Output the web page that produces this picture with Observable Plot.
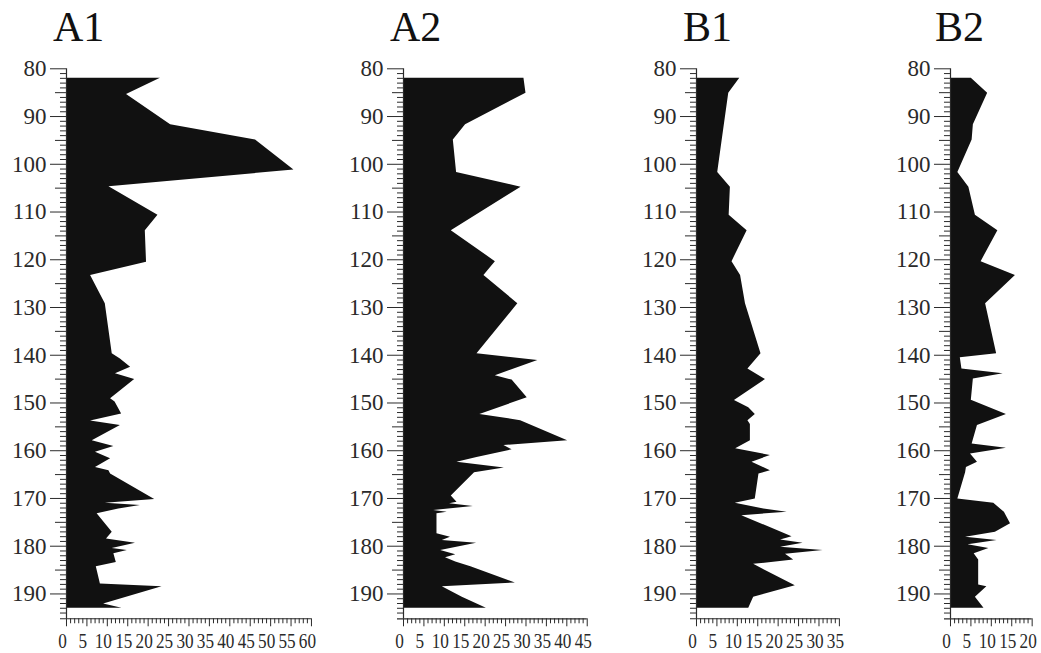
<!DOCTYPE html>
<html><head><meta charset="utf-8">
<script src="https://cdn.jsdelivr.net/npm/d3@7"></script>
<script src="https://cdn.jsdelivr.net/npm/@observablehq/plot@0.6"></script>
<style>
body{margin:0;background:#fff;}
#chart{position:relative;width:1041px;height:653px;overflow:hidden;font-family:"Liberation Serif","Times New Roman",serif;}
.panel{position:absolute;top:0;}
.panel, .panel text{font-family:"Liberation Serif","Times New Roman",serif !important;}
.title{position:absolute;font-size:42px;line-height:42px;color:#111;font-family:"Liberation Serif","Times New Roman",serif;}
</style></head><body><div id="chart"></div>
<script>
// ---- data ----
const titles = ["A1", "A2", "B1", "B2"];
const xMax = [60, 45, 35, 20];
const depthTicks = [80, 90, 100, 110, 120, 130, 140, 150, 160, 170, 180, 190];

const a1Depth = [82, 85.4, 91.7, 94.9, 101.2, 104.7, 110.7, 113.9, 120.5, 123.3, 129.2, 139.7, 140.8, 142.5, 143.9, 145.1, 149.1, 149.8, 152.3, 153.8, 154.7, 157.9, 159.1, 160.3, 161.7, 163.5, 164.2, 164.9, 170.2, 171.0, 171.5, 172.2, 173.2, 177.1, 178.5, 179.4, 180.5, 180.9, 181.6, 183.4, 184.3, 187.9, 188.5, 192.1, 193];
const a1Value = [23, 14.7, 25.5, 46.3, 55.7, 10.4, 22.4, 19.3, 19.6, 5.9, 9.5, 11.2, 13.2, 15.7, 12, 16.7, 10.8, 11.9, 13.5, 5.9, 13.2, 6.3, 11.6, 7.1, 10.8, 7.1, 10.4, 10.8, 21.6, 9.5, 18.1, 12.8, 7.5, 11.2, 9.8, 16.9, 11.2, 14.9, 11.6, 12.2, 7.3, 8.3, 23.4, 9.1, 13.6];

const a2Depth = [82, 85.1, 91.7, 94.9, 101.7, 104.8, 113.9, 120.4, 123.3, 129.2, 139.7, 141.1, 144.3, 145.2, 148.9, 152.4, 153.7, 157.9, 158.9, 159.8, 161.4, 162.4, 163.6, 164.6, 169.5, 170.8, 171.1, 171.7, 172.5, 172.9, 173.2, 177.4, 178.1, 178.8, 179.4, 180.9, 181.8, 182.4, 183.3, 184.3, 187.7, 188.5, 190.7, 193];
const a2Value = [29.5, 30.0, 15.2, 12.2, 13.0, 28.8, 11.7, 22.5, 19.7, 28.0, 18.0, 32.9, 22.5, 26.6, 30.3, 18.7, 28.7, 40.2, 24.6, 26.6, 18.0, 13.1, 24.7, 17.4, 11.7, 13.1, 11.3, 17.1, 7.4, 10.7, 8.2, 8.2, 11.5, 9.5, 17.9, 9.1, 12.8, 10.3, 12.8, 16.5, 27.4, 9.5, 14.4, 20.3];

const b1Depth = [82, 85.1, 94.9, 101.7, 104.8, 110.7, 113.9, 120.4, 123.3, 129.2, 139.7, 142.9, 145.1, 149.5, 151.0, 152.4, 153.7, 154.5, 157.9, 159.6, 161.0, 162.4, 164.2, 164.9, 170.1, 171.0, 172.2, 172.9, 173.6, 178.0, 178.7, 179.4, 180.2, 180.9, 181.7, 182.9, 183.8, 188.3, 190.7, 193];
const b1Value = [10.6, 7.9, 6.3, 5.2, 8.3, 8.0, 12.4, 8.7, 10.8, 12.0, 15.8, 12.6, 16.9, 9.3, 12.8, 14.4, 12.6, 13.2, 13.2, 9.6, 18.1, 13.6, 18.1, 15.3, 14.4, 9.5, 16.5, 22.2, 11.1, 23.4, 20.6, 26.1, 20.6, 31.0, 21.8, 23.8, 14.0, 24.2, 14.0, 12.8];

const b2Depth = [82, 85.1, 91.7, 94.9, 101.7, 104.8, 110.7, 113.9, 120.4, 123.3, 129.2, 139.7, 140.5, 142.9, 143.9, 145.0, 149.4, 152.4, 154.7, 158.6, 159.5, 160.7, 162.4, 163.5, 164.6, 170.1, 171.0, 172.9, 175.3, 177.1, 178.1, 178.8, 179.7, 180.5, 181.6, 182.9, 188.1, 188.5, 190.7, 193];
const b2Value = [5.1, 9.1, 5.6, 5.3, 1.8, 4.5, 6.1, 11.6, 7.5, 15.9, 8.6, 11.3, 2.4, 2.8, 12.9, 5.6, 5.1, 13.7, 6.6, 5.3, 13.7, 4.9, 6.6, 3.9, 3.7, 1.8, 10.6, 13.2, 14.7, 11.0, 3.7, 11.4, 4.3, 9.4, 5.8, 6.9, 6.9, 8.9, 6.1, 8.2];

const depths = [a1Depth, a2Depth, b1Depth, b2Depth];
const values = [a1Value, a2Value, b1Value, b2Value];

// ---- layout ----
const panelLeft = [0, 330, 640, 880];
const axisPos = [66, 403, 696, 950];
const titleLeft = [53, 390, 683, 935];
const marginRight = [12, 10, 10, 9];
const K = 4.083;          // px per x unit (shared)
const H = 653, MT = 68.3, MB = 34.7;
const yMin = 80, yMax = 195.2;
const ink = "#111", axisInk = "#2a2a2a";
const serif = '"Liberation Serif","Times New Roman",serif';

const chart = document.getElementById("chart");

titles.forEach((t, i) => {
  const data = depths[i].map((d, j) => ({depth: d, value: values[i][j]}));
  const ml = axisPos[i] - panelLeft[i];
  const w = ml + xMax[i] * K + marginRight[i];
  const minorY = d3.range(80, 195).filter(v => v % 5 !== 0);
  const midY = d3.range(85, 195, 10);
  const minorX = d3.range(0, xMax[i] + 1).filter(v => v % 5 !== 0);
  const majorX = d3.range(0, xMax[i] + 1, 5);

  const svg = Plot.plot({
    width: w, height: H,
    marginLeft: ml, marginRight: marginRight[i], marginTop: MT, marginBottom: MB,
    x: {domain: [0, xMax[i]], axis: null, label: null},
    y: {domain: [yMin, yMax], reverse: true, axis: null, label: null},
    style: {fontFamily: serif, color: axisInk, background: "transparent"},
    marks: [
      Plot.areaX(data, {y: "depth", x1: 0, x2: "value", fill: ink, curve: "linear"}),
      Plot.ruleX([0], {y1: yMin, y2: yMax, stroke: axisInk, strokeWidth: 1.2}),
      Plot.ruleY([yMax], {x1: -6 / K, x2: xMax[i], stroke: axisInk, strokeWidth: 1.2}),
      Plot.axisY({anchor: "left", ticks: minorY, tickSize: 6, text: null, label: null}),
      Plot.axisY({anchor: "left", ticks: midY, tickSize: 11, text: null, label: null}),
      Plot.axisY({anchor: "left", ticks: depthTicks, tickSize: 16, tickPadding: 4, fontSize: 23, fontFamily: serif, label: null, tickFormat: d => String(d)}),
      Plot.axisX({anchor: "bottom", ticks: minorX, tickSize: 5, text: null, label: null}),
      Plot.axisX({anchor: "bottom", ticks: majorX, tickSize: 8, text: null, label: null}),
      Plot.axisX({anchor: "bottom", ticks: majorX, tickSize: 0, tickPadding: 14, fontSize: 22, fontFamily: serif, dx: -4, label: null, tickFormat: d => String(d)})
    ]
  });
  svg.classList.add("panel");
  svg.style.left = panelLeft[i] + "px";
  chart.appendChild(svg);

  d3.select(svg).selectAll("text").style("font-family", serif);
  d3.select(svg).selectAll('g[aria-label="x-axis tick label"] text').each(function() {
    const n = this.textContent.length;
    this.setAttribute("textLength", n * 8.6);
    this.setAttribute("lengthAdjust", "spacingAndGlyphs");
  });

  const title = document.createElement("div");
  title.className = "title";
  title.textContent = t;
  title.style.left = titleLeft[i] + "px";
  title.style.top = "6px";
  chart.appendChild(title);
});
</script>
</body></html>
